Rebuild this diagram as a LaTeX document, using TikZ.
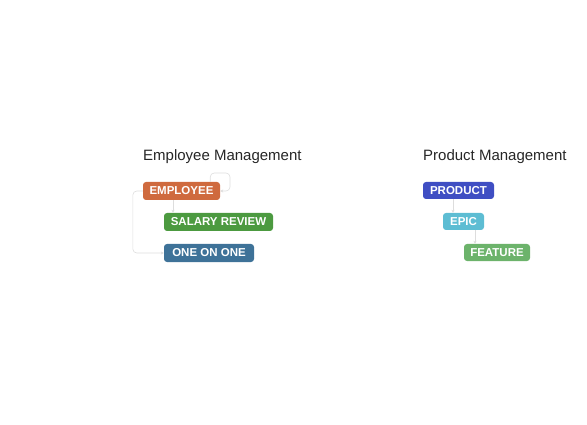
\documentclass[tikz,border=0pt]{standalone}
\usepackage{fontspec}
\setmainfont{Liberation Sans}
\usetikzlibrary{arrows.meta}
\definecolor{employeecol}{HTML}{CF6A3E}
\definecolor{salarycol}{HTML}{4C9A40}
\definecolor{oneononecol}{HTML}{3E7298}
\definecolor{productcol}{HTML}{3F4EC3}
\definecolor{epiccol}{HTML}{5DBDD3}
\definecolor{featurecol}{HTML}{6CB36B}
\definecolor{linkgray}{HTML}{DDDDDD}
\definecolor{titlegray}{HTML}{262626}
\tikzset{
  tag/.style={rounded corners=3pt, text=white, inner sep=0pt, minimum height=18pt,
    font=\bfseries\fontsize{11.5}{12}\selectfont},
  title/.style={anchor=west, inner sep=0pt, text=titlegray, font=\fontsize{15}{16}\selectfont},
  link/.style={draw=linkgray, line width=0.6pt, -{Stealth[length=3pt,width=3pt]}}
}
\begin{document}
\begin{tikzpicture}[x=1pt,y=-1pt]
    \useasboundingbox (0,0) rectangle (587,425);
    % employee tree
    \node[title] (emptitle) at (143,157) {Employee Management};
    \node[tag, fill=employeecol, minimum width=77pt] (employee) at (181.5,191) {EMPLOYEE};
    \node[tag, fill=salarycol, minimum width=109pt] (salary) at (218.5,222) {SALARY REVIEW};
    \node[tag, fill=oneononecol, minimum width=90pt] (oneonone) at (209,253) {ONE ON ONE};
    \draw[link, rounded corners=4pt] ([xshift=-10pt]employee.north east) |- (230,173) |- (employee.east);
    \draw[link] (employee.south -| 173,0) -- (salary.north -| 173,0);
    \draw[link, rounded corners=4pt] (employee.west) -- ++(-10,0) |- (oneonone.west);
    % product tree
    \node[title] (prodtitle) at (423,157) {Product Management};
    \node[tag, fill=productcol, minimum width=71pt, minimum height=17pt] (product) at (458.5,190.5) {PRODUCT};
    \node[tag, fill=epiccol, minimum width=41pt, minimum height=17pt] (epic) at (463.5,221.5) {EPIC};
    \node[tag, fill=featurecol, minimum width=66pt, minimum height=17pt] (feature) at (497,252.5) {FEATURE};
    \draw[link] (product.south -| 453,0) -- (epic.north -| 453,0);
    \draw[link] (epic.south -| 475,0) -- (feature.north -| 475,0);
\end{tikzpicture}
\end{document}
